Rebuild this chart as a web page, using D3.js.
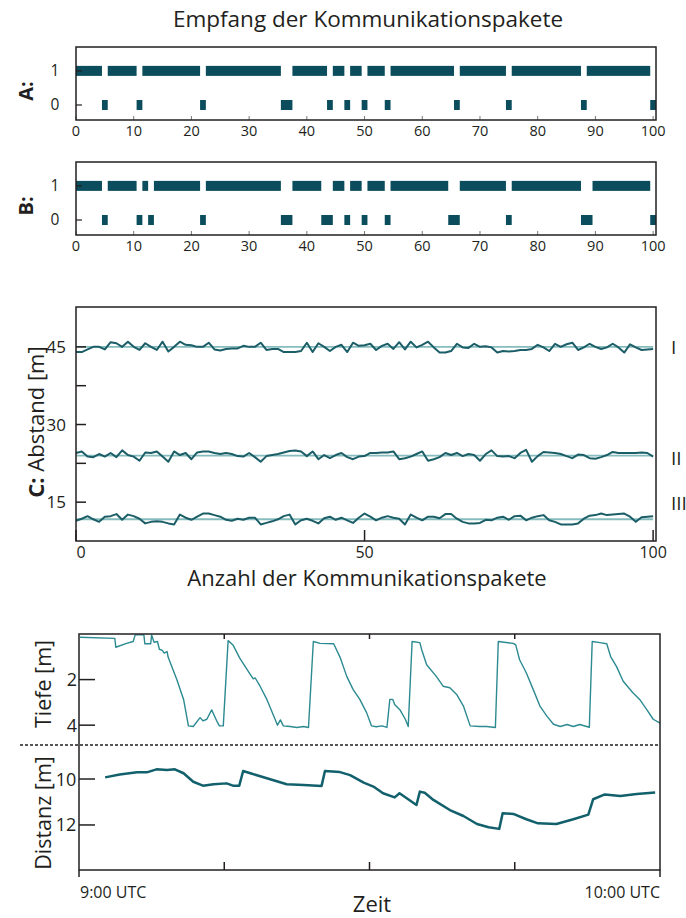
<!DOCTYPE html>
<html>
<head>
<meta charset="utf-8">
<script src="https://cdn.jsdelivr.net/npm/d3@7"></script>
<style>
  body { margin: 0; background: #fff; }
  svg { display: block; }
  text { font-family: "Open Sans", Lato, sans-serif; fill: #231f20; }
</style>
</head>
<body>
<svg id="chart" width="686" height="918"></svg>
<script>
// ---------- packet reception (A, B): lost packet numbers, 0..100 ----------
const packetCount = 101;
const lostA = [5, 11, 22, 36, 37, 44, 47, 50, 54, 66, 75, 88, 100];
const lostB = [5, 11, 13, 22, 36, 37, 43, 44, 47, 50, 54, 65, 66, 75, 88, 89, 100];
const packetTicks = [0, 10, 20, 30, 40, 50, 60, 70, 80, 90, 100];

// ---------- distance per packet (C) ----------
const seriesI = [44.0,44.0,44.5,45.0,45.0,44.5,45.9,45.7,45.0,46.0,45.0,44.4,45.7,45.0,44.4,46.0,44.1,45.0,46.0,45.4,
  45.3,45.0,45.0,45.8,44.5,44.3,44.6,44.7,44.7,45.2,45.0,45.0,45.8,44.4,44.6,44.6,44.0,44.0,44.0,44.2,
  45.8,44.0,45.7,45.0,44.2,45.0,45.4,44.0,45.8,45.2,45.3,45.6,44.4,45.2,45.6,44.6,45.9,44.5,46.0,44.9,
  45.4,46.0,44.9,43.9,43.9,44.2,45.6,44.9,44.8,45.6,45.0,45.1,44.9,43.9,44.2,44.1,44.2,44.4,44.4,44.6,
  45.4,44.9,44.2,45.6,45.0,45.5,45.8,44.4,44.9,45.6,45.0,44.6,44.9,45.6,44.9,43.9,45.5,44.9,44.4,44.5,44.6];
const seriesII = [24.5,24.8,23.8,23.7,24.3,23.8,24.5,23.7,25.0,24.1,23.8,23.0,24.6,24.5,24.8,23.8,22.8,24.8,24.1,24.5,
  23.3,24.6,24.8,24.8,24.5,24.3,24.5,24.3,23.9,23.8,24.5,23.7,22.8,23.9,24.1,24.3,24.6,24.9,25.0,24.8,
  23.9,24.8,23.3,24.1,23.5,24.1,24.5,23.7,23.3,23.8,23.9,24.5,24.5,24.6,24.6,24.8,23.3,23.5,23.8,24.3,
  24.8,23.0,23.3,23.7,24.5,24.1,24.5,23.9,24.3,24.1,23.0,24.3,25.0,23.9,23.8,23.9,23.5,24.5,25.1,22.8,
  23.9,24.7,24.6,24.5,24.3,23.9,23.5,24.2,24.1,23.5,23.4,23.7,24.1,24.7,24.5,24.5,24.5,24.5,24.6,24.5,23.8];
const seriesIII = [11.4,11.8,12.3,11.7,11.2,12.2,12.3,12.7,11.6,12.6,12.3,11.8,10.9,11.2,11.3,11.2,10.9,10.7,12.6,12.0,
  11.6,12.2,12.8,12.8,12.5,12.2,11.6,11.4,11.8,11.6,12.0,12.0,10.7,11.0,11.3,11.7,12.3,12.6,10.7,11.5,
  11.8,11.4,10.9,11.9,12.2,11.6,12.0,11.5,11.0,12.0,12.8,12.2,11.5,12.0,12.3,12.0,11.8,10.7,12.6,12.0,
  11.5,12.2,12.2,11.9,12.7,12.7,11.8,11.2,10.9,10.9,11.0,11.6,11.5,12.0,12.2,11.6,12.3,12.4,11.5,12.0,
  12.3,12.5,11.5,11.2,10.7,10.7,10.7,10.9,11.8,12.4,12.5,12.8,12.5,12.6,12.7,12.8,12.2,11.2,12.1,12.2,12.3];
const referenceLevels = [45, 24, 11.7];
const seriesNames = ["I", "II", "III"];
const distTicksLabelled = [15, 30, 45];
const distTicksMinor = [22.5, 37.5];

// ---------- depth and distance over time, [minutes after 9:00, metres] ----------
const depthTrace = [[0.1,0.14],[3.7,0.19],[3.8,0.58],[4.9,0.41],[5.6,0.33],[5.8,0.04],[6.7,0.04],[6.8,0.43],[7.4,0.43],
  [7.5,0.04],[7.75,0.36],[8.1,0.33],[8.3,0.67],[8.6,0.72],[8.8,0.84],[9.1,0.77],[9.2,1.01],[10.1,2.0],[10.8,2.87],
  [11.3,4.03],[11.8,4.06],[12.5,3.67],[12.8,3.81],[13.2,3.74],[13.7,3.33],[14.3,3.88],[14.5,4.03],[14.9,4.03],
  [15.4,0.29],[15.9,0.48],[16.6,1.06],[17.7,1.78],[18.0,1.97],[18.2,1.93],[18.7,2.29],[19.4,2.87],[20.1,3.59],
  [20.5,4.0],[20.8,3.77],[21.1,4.03],[21.8,4.06],[22.5,4.1],[23.2,4.06],[23.7,4.1],[24.2,0.33],[24.9,0.41],
  [26.3,0.43],[27.0,1.06],[27.65,1.86],[28.3,2.43],[29.0,2.87],[29.7,3.45],[30.2,4.03],[30.7,4.07],[31.3,4.03],
  [31.8,4.1],[32.1,2.87],[32.4,2.87],[32.6,3.09],[33.15,3.33],[33.7,3.74],[34.0,4.06],[34.4,0.33],[35.2,0.38],
  [35.4,0.70],[35.9,1.35],[36.9,1.86],[37.6,2.29],[38.3,2.36],[39.0,2.65],[39.7,3.16],[40.4,4.03],[41.4,4.06],
  [42.1,4.06],[43.0,4.1],[43.3,0.33],[44.85,0.41],[45.1,0.48],[45.5,1.13],[46.2,1.71],[46.9,2.43],[47.6,3.16],
  [48.3,3.59],[49.0,3.96],[49.7,4.06],[50.4,3.97],[51.05,4.06],[51.7,3.97],[52.7,4.09],[53.0,0.33],[53.8,0.38],
  [54.5,0.43],[54.9,0.99],[55.5,1.42],[56.2,2.07],[57.2,2.58],[57.9,2.87],[58.6,3.30],[59.3,3.74],[60.0,3.91]];
const distanceTrace = [[2.7,9.93],[4.2,9.80],[6.0,9.71],[7.0,9.71],[8.0,9.58],[9.1,9.61],[9.9,9.58],[10.8,9.75],
  [11.8,10.12],[12.8,10.29],[13.9,10.23],[15.25,10.19],[15.9,10.29],[16.55,10.29],[16.95,9.65],[17.7,9.75],
  [19.4,9.97],[21.45,10.23],[23.2,10.26],[25.05,10.30],[25.4,9.65],[26.95,9.70],[28.0,9.83],[29.4,10.16],
  [30.4,10.33],[31.4,10.62],[32.6,10.80],[33.1,10.62],[34.85,11.13],[35.2,10.55],[35.7,10.60],[36.6,10.91],
  [38.3,11.35],[39.7,11.61],[41.1,11.96],[42.3,12.10],[43.4,12.17],[43.75,11.49],[44.85,11.52],[46.2,11.75],
  [47.4,11.93],[49.3,11.96],[51.05,11.75],[52.6,11.55],[53.1,10.88],[54.3,10.67],[55.9,10.74],[57.6,10.65],[59.5,10.59]];
const depthTicks = [2, 4];
const distanceTicks = [10, 12];
const timeTicks = [0, 15, 30, 45, 60];
const timeLabels = {0: "9:00 UTC", 60: "10:00 UTC"};

// ---------- styling ----------
const ink = "#231f20";
const barColor = "#0b4d5c";
const measuredColor = "#1b5e67";
const referenceColor = "#86bcbd";
const depthColor = "#2c8a91";
const distanceColor = "#12606c";

const svg = d3.select("#chart");

svg.append("text").attr("x", 368).attr("y", 27).attr("text-anchor", "middle")
  .style("font-size", "22.5px").text("Empfang der Kommunikationspakete");

const xPacket = d3.scaleLinear().domain([0, 100.5]).range([76, 656]);

function frame(g, x0, x1, y0, y1) {
  g.append("rect").attr("x", x0).attr("y", y0).attr("width", x1 - x0).attr("height", y1 - y0)
    .attr("fill", "none").attr("stroke", ink).attr("stroke-width", 1.5);
}

// group consecutive packets with the same status (1 = received, 0 = lost)
function runsOf(lost) {
  const status = d3.range(packetCount).map(k => lost.includes(k) ? 0 : 1);
  const runs = [];
  let start = 0;
  for (let k = 1; k <= packetCount; k++) {
    if (k === packetCount || status[k] !== status[start]) {
      runs.push({ v: status[start], a: start, b: k - 1 });
      start = k;
    }
  }
  return runs;
}

function receptionPanel(lost, top, letter) {
  const bottom = top + 73;
  const y = d3.scaleLinear().domain([-0.44, 1.7]).range([bottom, top]);
  const g = svg.append("g");
  const runs = runsOf(lost);
  g.selectAll("rect.run").data(runs).join("rect").attr("class", "run")
    .attr("x", d => xPacket(Math.max(0, d.a - 0.5)))
    .attr("width", d => xPacket(Math.min(100.5, d.b + 0.5)) - xPacket(Math.max(0, d.a - 0.5)))
    .attr("y", d => y(d.v) - 5).attr("height", 10)
    .attr("fill", barColor);
  [0, 1].forEach(v => {
    g.append("line").attr("x1", 76).attr("x2", 82).attr("y1", y(v)).attr("y2", y(v))
      .attr("stroke", ink).attr("stroke-width", 1.2);
    g.append("text").attr("x", 55).attr("y", y(v) + 5.5).attr("text-anchor", "middle")
      .style("font-size", "15.5px").text(v);
  });
  packetTicks.forEach(v => {
    g.append("line").attr("x1", xPacket(v)).attr("x2", xPacket(v)).attr("y1", bottom).attr("y2", bottom - 4)
      .attr("stroke", "#777").attr("stroke-width", 1);
    g.append("text").attr("x", xPacket(v)).attr("y", bottom + 16).attr("text-anchor", "middle")
      .style("font-size", "14.5px").text(v);
  });
  frame(g, 76, 656, top, bottom);
  g.append("text").attr("transform", `translate(33,${(y(0) + y(1)) / 2 + 3}) rotate(-90)`)
    .attr("text-anchor", "middle").style("font-size", "20px").style("font-weight", "bold").text(letter + ":");
}

receptionPanel(lostA, 47, "A");
receptionPanel(lostB, 162, "B");

// ---------- panel C ----------
{
  const top = 307, bottom = 541;
  const y = d3.scaleLinear().domain([7.5, 52.7]).range([bottom, top]);
  const g = svg.append("g");
  const line = d3.line().x((d, i) => xPacket(i)).y(d => y(d));
  const seriesList = [seriesI, seriesII, seriesIII];
  referenceLevels.forEach((lvl, i) => {
    g.append("line").attr("x1", xPacket(0)).attr("x2", xPacket(100)).attr("y1", y(lvl)).attr("y2", y(lvl))
      .attr("stroke", referenceColor).attr("stroke-width", 1.8);
    g.append("path").datum(seriesList[i]).attr("d", line)
      .attr("fill", "none").attr("stroke", measuredColor).attr("stroke-width", 2).attr("stroke-linejoin", "round");
  });
  const labelY = [347, 458, 503];
  seriesNames.forEach((n, i) => {
    g.append("text").attr("x", 671).attr("y", labelY[i] + 7).style("font-size", "19px").text(n);
  });
  distTicksLabelled.concat(distTicksMinor).forEach(v => {
    g.append("line").attr("x1", 76).attr("x2", 86).attr("y1", y(v)).attr("y2", y(v))
      .attr("stroke", ink).attr("stroke-width", 1.5);
  });
  distTicksLabelled.forEach(v => {
    g.append("text").attr("x", 66).attr("y", y(v) + 6).attr("text-anchor", "end")
      .style("font-size", "17px").text(v);
  });
  [0, 50, 100].forEach(v => {
    g.append("line").attr("x1", xPacket(v)).attr("x2", xPacket(v)).attr("y1", bottom).attr("y2", bottom - 11)
      .attr("stroke", ink).attr("stroke-width", 1.5);
    g.append("text").attr("x", xPacket(v) + (v === 0 ? 5 : 0)).attr("y", bottom + 17).attr("text-anchor", "middle")
      .style("font-size", "16px").text(v);
  });
  frame(g, 76, 656, top, bottom);
  const t = g.append("text").attr("transform", `translate(44,422) rotate(-90)`)
    .attr("text-anchor", "middle").style("font-size", "22px");
  t.append("tspan").style("font-weight", "bold").text("C:");
  t.append("tspan").text(" Abstand [m]");
  g.append("text").attr("x", 367).attr("y", 585.5).attr("text-anchor", "middle")
    .style("font-size", "22px").text("Anzahl der Kommunikationspakete");
}

// ---------- depth / distance over time ----------
{
  const left = 79, right = 660, top = 634, mid = 745, bottom = 870;
  const x = d3.scaleLinear().domain([0, 60]).range([left, right]);
  const yDepth = d3.scaleLinear().domain([0, 4.87]).range([top, mid]);
  const yDist = d3.scaleLinear().domain([8.52, 13.96]).range([mid, bottom]);
  const g = svg.append("g");

  g.append("path").datum(depthTrace)
    .attr("d", d3.line().x(d => x(d[0])).y(d => yDepth(d[1])))
    .attr("fill", "none").attr("stroke", depthColor).attr("stroke-width", 1.4).attr("stroke-linejoin", "round");
  g.append("path").datum(distanceTrace)
    .attr("d", d3.line().x(d => x(d[0])).y(d => yDist(d[1])))
    .attr("fill", "none").attr("stroke", distanceColor).attr("stroke-width", 2.5).attr("stroke-linejoin", "round");

  g.append("line").attr("x1", 20).attr("x2", right).attr("y1", mid).attr("y2", mid)
    .attr("stroke", ink).attr("stroke-width", 1.5).attr("stroke-dasharray", "3,2");

  depthTicks.forEach(v => {
    g.append("line").attr("x1", left).attr("x2", left + 16).attr("y1", yDepth(v)).attr("y2", yDepth(v))
      .attr("stroke", ink).attr("stroke-width", 1.5);
    g.append("text").attr("x", 72).attr("y", yDepth(v) + 6.5).attr("text-anchor", "middle")
      .style("font-size", "18px").text(v);
  });
  distanceTicks.forEach(v => {
    g.append("line").attr("x1", left).attr("x2", left + 16).attr("y1", yDist(v)).attr("y2", yDist(v))
      .attr("stroke", ink).attr("stroke-width", 1.5);
    g.append("text").attr("x", 66).attr("y", yDist(v) + 6.5).attr("text-anchor", "middle")
      .style("font-size", "18px").text(v);
  });

  timeTicks.forEach(v => {
    const edge = v === 0 || v === 60;
    g.append("line").attr("x1", x(v)).attr("x2", x(v))
      .attr("y1", bottom).attr("y2", edge ? bottom + 7 : bottom - 8)
      .attr("stroke", ink).attr("stroke-width", 1.5);
    if (!edge) {
      g.append("line").attr("x1", x(v)).attr("x2", x(v)).attr("y1", top).attr("y2", top + 5)
        .attr("stroke", ink).attr("stroke-width", 1.5);
    }
    if (timeLabels[v]) {
      g.append("text").attr("x", x(v) + (v === 0 ? 1 : 0)).attr("y", 898)
        .attr("text-anchor", v === 0 ? "start" : "end").style("font-size", "16px").text(timeLabels[v]);
    }
  });

  g.append("rect").attr("x", left).attr("y", top).attr("width", right - left).attr("height", bottom - top)
    .attr("fill", "none").attr("stroke", ink).attr("stroke-width", 1.5);

  g.append("text").attr("transform", `translate(51,684) rotate(-90)`).attr("text-anchor", "middle")
    .style("font-size", "21.5px").text("Tiefe [m]");
  g.append("text").attr("transform", `translate(51,813) rotate(-90)`).attr("text-anchor", "middle")
    .style("font-size", "21.5px").text("Distanz [m]");
  g.append("text").attr("x", 372).attr("y", 912).attr("text-anchor", "middle")
    .style("font-size", "22px").text("Zeit");
}
</script>
</body>
</html>
